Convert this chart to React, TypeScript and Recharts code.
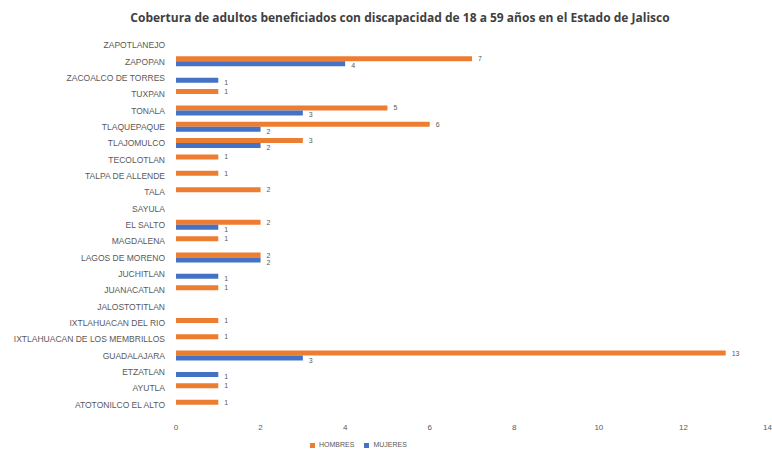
import React from "react";
import {
  Bar,
  BarChart,
  LabelList,
  Legend,
  XAxis,
  YAxis,
} from "recharts";

const municipios = [
  "ZAPOTLANEJO",
  "ZAPOPAN",
  "ZACOALCO DE TORRES",
  "TUXPAN",
  "TONALA",
  "TLAQUEPAQUE",
  "TLAJOMULCO",
  "TECOLOTLAN",
  "TALPA DE ALLENDE",
  "TALA",
  "SAYULA",
  "EL SALTO",
  "MAGDALENA",
  "LAGOS DE MORENO",
  "JUCHITLAN",
  "JUANACATLAN",
  "JALOSTOTITLAN",
  "IXTLAHUACAN DEL RIO",
  "IXTLAHUACAN DE LOS MEMBRILLOS",
  "GUADALAJARA",
  "ETZATLAN",
  "AYUTLA",
  "ATOTONILCO EL ALTO",
];

// null = sin barra ni etiqueta
const hombres = [null, 7, null, 1, 5, 6, 3, 1, 1, 2, null, 2, 1, 2, null, 1, null, 1, 1, 13, null, 1, 1];
const mujeres = [null, 4, 1, null, 3, 2, 2, null, null, null, null, 1, null, 2, 1, null, null, null, null, 3, 1, null, null];

const xTicks = [0, 2, 4, 6, 8, 10, 12, 14];

const data = municipios.map((name, i) => ({
  name,
  HOMBRES: hombres[i],
  MUJERES: mujeres[i],
}));

const font = "'Liberation Sans', Arial, sans-serif";
const gray = "#595959";

const CategoryTick = (props: any) => {
  const { x, y, payload } = props;
  return (
    <text
      x={x}
      y={y}
      dy={3}
      textAnchor="end"
      fill={gray}
      fontSize={8.5}
      fontFamily={font}
    >
      {payload.value}
    </text>
  );
};

export default function App() {
  return (
    <div
      style={{
        position: "absolute",
        left: 0,
        top: 0,
        width: 772,
        height: 452,
        background: "#fff",
        fontFamily: font,
      }}
    >
      <div
        style={{
          position: "absolute",
          top: 9,
          left: 0,
          width: 800,
          textAlign: "center",
          fontFamily: "'Open Sans', sans-serif",
          fontWeight: 700,
          fontSize: 12,
          color: "#404040",
        }}
      >
        Cobertura de adultos beneficiados con discapacidad de 18 a 59 años en el Estado de Jalisco
      </div>
      <BarChart
        width={772}
        height={452}
        data={data}
        layout="vertical"
        margin={{ top: 37, right: 4, left: 0, bottom: 12 }}
        barGap={0}
        barCategoryGap={0}
      >
        <XAxis
          type="number"
          domain={[0, 14]}
          ticks={xTicks}
          axisLine={false}
          tickLine={false}
          tick={{ fill: gray, fontSize: 8, fontFamily: font }}
          tickMargin={5}
          height={20}
        />
        <YAxis
          type="category"
          dataKey="name"
          width={176}
          axisLine={false}
          tickLine={false}
          interval={0}
          tick={<CategoryTick />}
          tickMargin={5}
        />
        <Legend
          verticalAlign="bottom"
          align="left"
          iconType="square"
          iconSize={5}
          formatter={(value: string) => <span style={{ color: gray }}>{value}</span>}
          wrapperStyle={{ left: 310, bottom: 4, fontSize: 7, width: 120 }}
        />
        <Bar dataKey="HOMBRES" fill="#ED7D31" barSize={5} isAnimationActive={false}>
          <LabelList
            dataKey="HOMBRES"
            position="right"
            offset={6}
            style={{ fill: gray, fontSize: 7, fontFamily: font }}
          />
        </Bar>
        <Bar dataKey="MUJERES" fill="#4472C4" barSize={5} isAnimationActive={false}>
          <LabelList
            dataKey="MUJERES"
            position="right"
            offset={6}
            dy={2}
            style={{ fill: gray, fontSize: 7, fontFamily: font }}
          />
        </Bar>
      </BarChart>
    </div>
  );
}
